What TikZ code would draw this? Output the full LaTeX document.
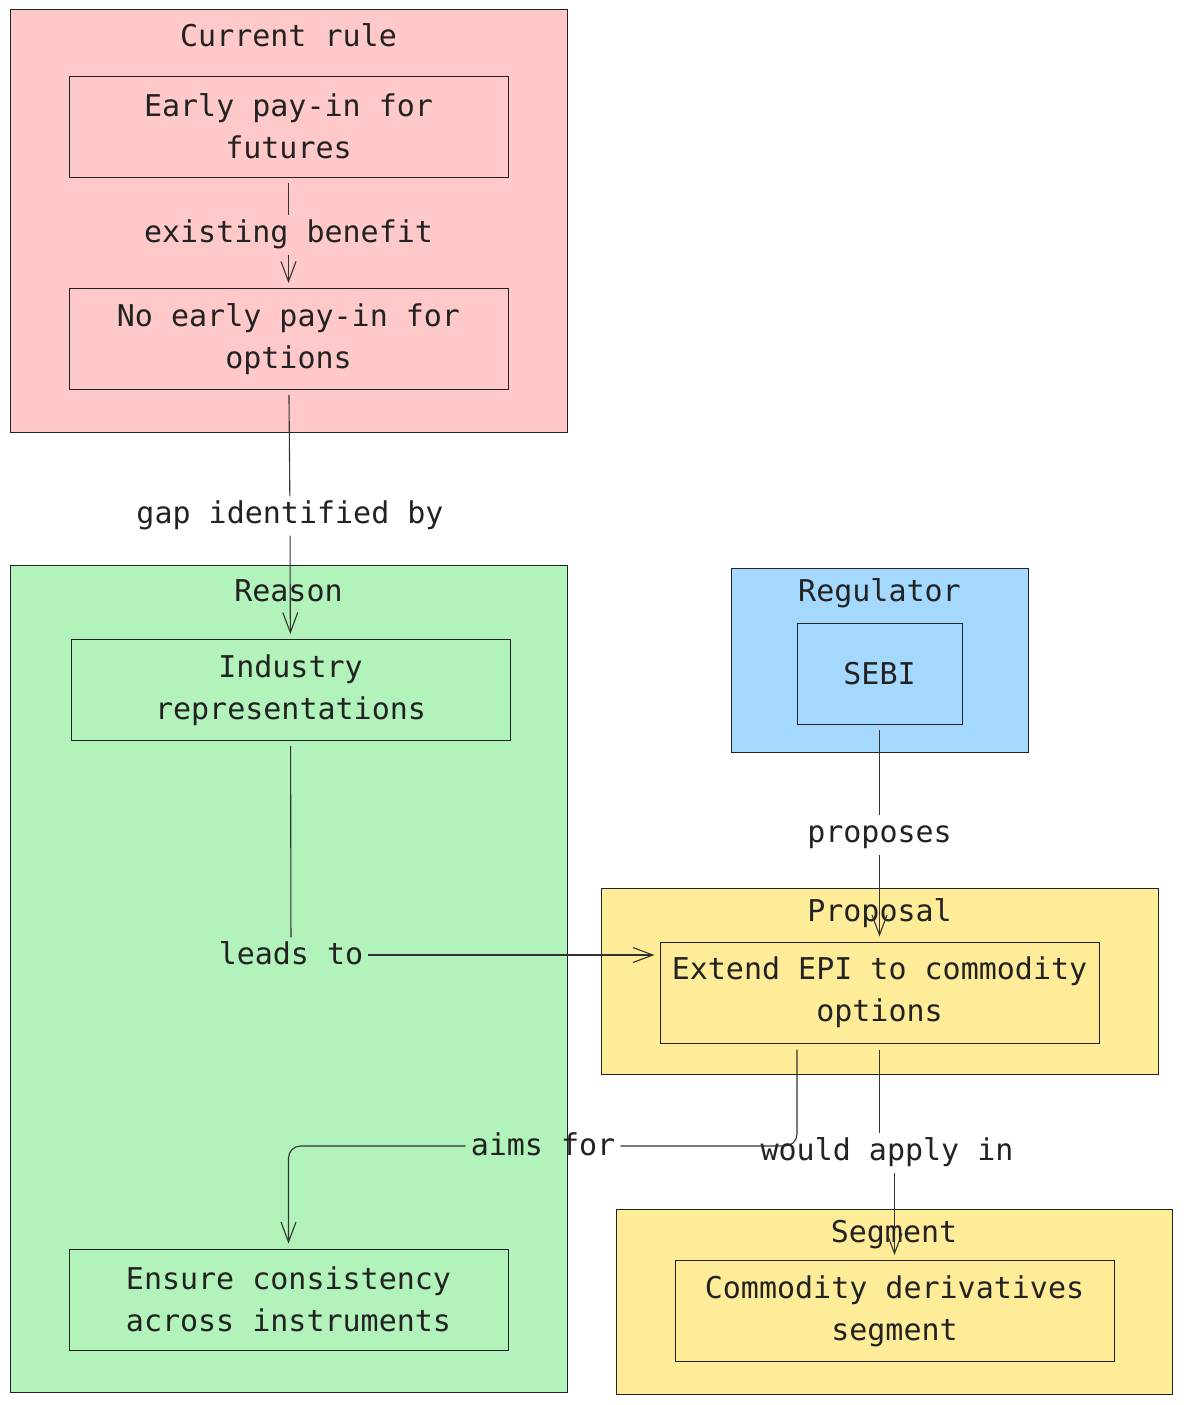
\documentclass[tikz,border=0pt]{standalone}
\usepackage{fontspec}
\setmonofont{DejaVu Sans Mono}
\usetikzlibrary{arrows.meta,positioning}

\definecolor{ink}{HTML}{222222}
\definecolor{wire}{HTML}{333333}
\definecolor{rulebg}{HTML}{FFC9C9}
\definecolor{reasonbg}{HTML}{B2F2BB}
\definecolor{regbg}{HTML}{A5D8FF}
\definecolor{propbg}{HTML}{FFEC99}

\begin{document}
\begin{tikzpicture}[x=1pt,y=-1pt,
  every node/.style={font=\ttfamily\fontsize{30}{42}\selectfont,text=ink},
  grp/.style={draw=ink,line width=1pt,inner sep=0pt},
  box/.style={draw=ink,line width=1pt,minimum width=439pt,minimum height=101pt,
    align=center,inner sep=0pt},
  ttl/.style={inner sep=0pt},
  lbl/.style={inner sep=5pt,text height=22pt,text depth=7pt},
  ln/.style={draw=wire,line width=1.1pt},
  arr/.style={ln,-{Straight Barb[length=20pt,width=15pt]},shorten >=5pt}]
  \useasboundingbox (0,0) rectangle (1183,1405);

  % groups
  \node[grp,fill=rulebg,minimum width=557pt,minimum height=422pt] (cur) at (288.5,221) {};
  \node[grp,fill=reasonbg,minimum width=557pt,minimum height=827pt] (rsn) at (288.5,978.5) {};
  \node[grp,fill=regbg,minimum width=297pt,minimum height=184pt] (reg) at (879.5,660) {};
  \node[grp,fill=propbg,minimum width=557pt,minimum height=186pt] (prp) at (879.5,981) {};
  \node[grp,fill=propbg,minimum width=556pt,minimum height=185pt] (seg) at (894,1301.5) {};
  \node[ttl] (curT) at ([yshift=-26pt]cur.north) {Current rule};
  \node[ttl] (rsnT) at ([yshift=-26pt]rsn.north) {Reason};
  \node[ttl] (regT) at ([yshift=-26pt]reg.north) {Regulator};
  \node[ttl] (prpT) at ([yshift=-26pt]prp.north) {Proposal};
  \node[ttl] (segT) at ([yshift=-26pt]seg.north) {Segment};

  % nodes
  \node[box] (early) at (288.5,126.5) {Early pay-in for\\futures};
  \node[box] (noearly) at (288.5,339) {No early pay-in for\\options};
  \node[box] (ind) at (290.5,690) {Industry\\representations};
  \node[box] (ens) at (288.5,1299.5) {Ensure consistency\\across instruments};
  \node[box,minimum width=165pt] (sebi) at (879.5,673.5) {SEBI};
  \node[box] (ext) at (879.5,992.5) {Extend EPI to commodity\\options};
  \node[box] (com) at (894.5,1311) {Commodity derivatives\\segment};

  % edge labels
  \node[lbl] (eb) at (288.5,235) {existing benefit};
  \node[lbl] (gap) at (290,516) {gap identified by};
  \node[lbl] (lt) at (291,957) {leads to};
  \node[lbl] (prop) at (879.5,835) {proposes};
  \node[lbl] (aim) at (543,1148) {aims for};
  \node[lbl] (wa) at (887,1153) {would apply in};

  % edges
  \draw[ln,shorten <=5pt] (early) -- (eb);
  \draw[arr] (eb) -- (noearly);
  \draw[ln,shorten <=5pt] (noearly) -- (gap);
  \draw[arr] (gap) -- (ind);
  \draw[ln,shorten <=5pt] (ind) -- (lt);
  \draw[arr] ([yshift=2pt]lt.east) -- ([yshift=2pt]lt.east -| ext.west);
  \draw[ln,shorten <=5pt] (sebi) -- (prop);
  \draw[arr] (prop) -- (ext);
  \draw[ln,rounded corners=12pt] ([xshift=-82.5pt,yshift=-6pt]ext.south) |- ([yshift=2pt]aim.east);
  \draw[arr,rounded corners=12pt] ([yshift=2pt]aim.west) -| (ens.north);
  \draw[ln,shorten <=6pt] (ext.south) -- (ext.south |- wa.north);
  \draw[arr] (com.north |- wa.south) -- (com.north);
\end{tikzpicture}
\end{document}
